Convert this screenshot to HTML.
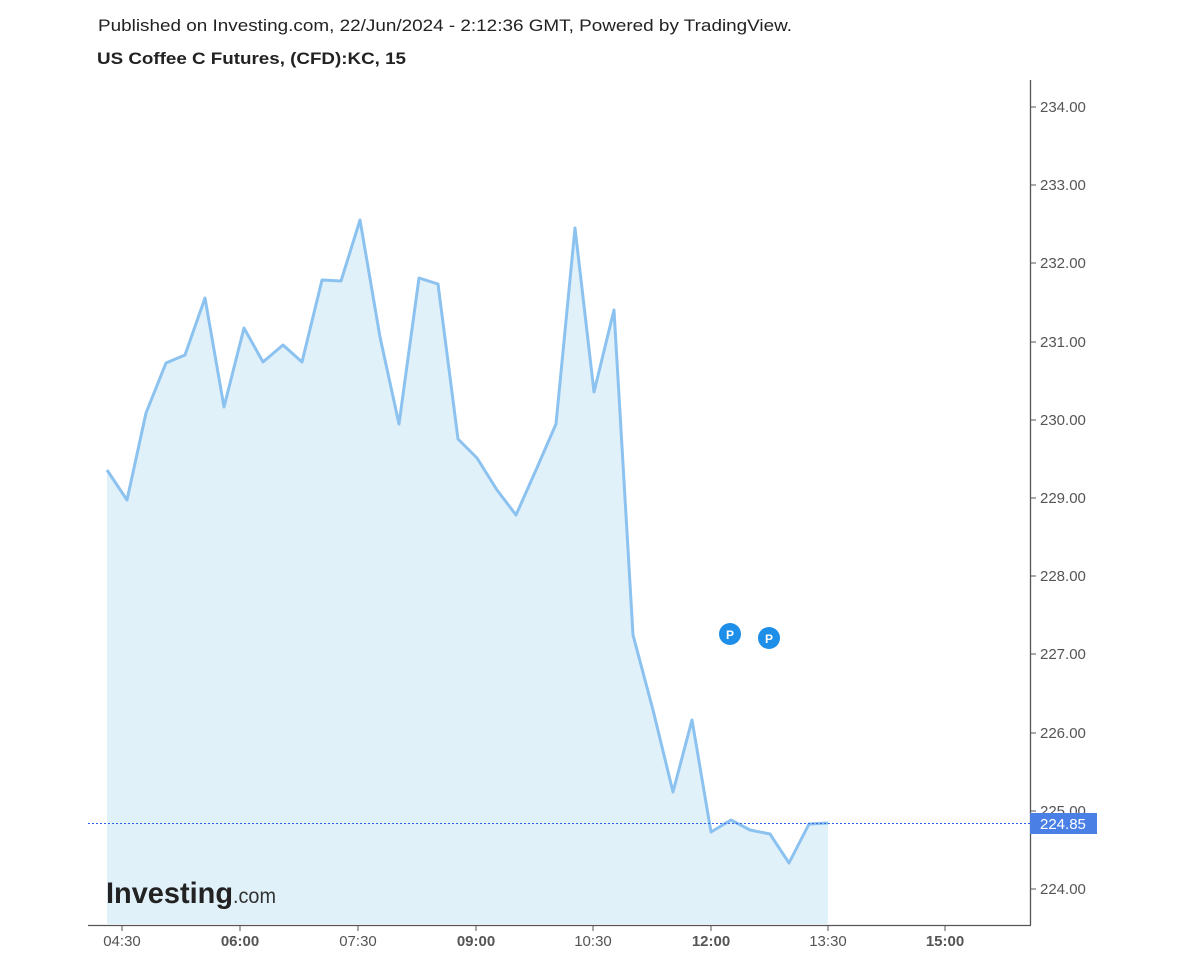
<!DOCTYPE html>
<html><head><meta charset="utf-8"><style>
html,body{margin:0;padding:0;background:#fff;}
body{width:1200px;height:960px;overflow:hidden;font-family:"Liberation Sans",Arial,sans-serif;}
</style></head><body>
<svg width="1200" height="960" xmlns="http://www.w3.org/2000/svg" font-family="Liberation Sans, Arial, sans-serif">
<text x="98" y="31" font-size="17" fill="#222" textLength="694" lengthAdjust="spacingAndGlyphs">Published on Investing.com, 22/Jun/2024 - 2:12:36 GMT, Powered by TradingView.</text>
<text x="97" y="64" font-size="17" font-weight="bold" fill="#222" textLength="309" lengthAdjust="spacingAndGlyphs">US Coffee C Futures, (CFD):KC, 15</text>
<polygon fill="#e1f1fa" points="107,924 107,470 127,500 146,413 166,363 185,355 205,298 224,407 244,328 263,362 283,345 302,362 322,280 341,281 360,220 380,337 399,424 419,278 438,284 458,439 477,458 497,490 516,515 536,470 556,424 575,228 594,392 614,310 633,635 653,710 673,792 692,720 711,832 731,820 750,830 770,834 789,863 809,824 828,823 828,924"/>
<polyline fill="none" stroke="#8cc2ef" stroke-width="3" stroke-linejoin="round" points="107,470 127,500 146,413 166,363 185,355 205,298 224,407 244,328 263,362 283,345 302,362 322,280 341,281 360,220 380,337 399,424 419,278 438,284 458,439 477,458 497,490 516,515 536,470 556,424 575,228 594,392 614,310 633,635 653,710 673,792 692,720 711,832 731,820 750,830 770,834 789,863 809,824 828,823"/>
<line x1="88" y1="823.5" x2="1030" y2="823.5" stroke="#2f62e8" stroke-width="1" stroke-dasharray="2,2"/>
<line x1="1030.5" y1="80" x2="1030.5" y2="925" stroke="#555" stroke-width="1.3"/>
<line x1="88" y1="925.5" x2="1031" y2="925.5" stroke="#555" stroke-width="1.3"/>
<g font-size="15" fill="#555">
<g stroke="#555"><line x1="1031" y1="107" x2="1036" y2="107"/><line x1="1031" y1="185" x2="1036" y2="185"/><line x1="1031" y1="263" x2="1036" y2="263"/><line x1="1031" y1="342" x2="1036" y2="342"/><line x1="1031" y1="420" x2="1036" y2="420"/><line x1="1031" y1="498" x2="1036" y2="498"/><line x1="1031" y1="576" x2="1036" y2="576"/><line x1="1031" y1="654" x2="1036" y2="654"/><line x1="1031" y1="733" x2="1036" y2="733"/><line x1="1031" y1="811" x2="1036" y2="811"/><line x1="1031" y1="889" x2="1036" y2="889"/></g>
<text x="1040" y="112">234.00</text><text x="1040" y="190">233.00</text><text x="1040" y="268">232.00</text><text x="1040" y="347">231.00</text><text x="1040" y="425">230.00</text><text x="1040" y="503">229.00</text><text x="1040" y="581">228.00</text><text x="1040" y="659">227.00</text><text x="1040" y="738">226.00</text><text x="1040" y="816">225.00</text><text x="1040" y="894">224.00</text>
<g stroke="#555"><line x1="122" y1="926" x2="122" y2="931"/><line x1="240" y1="926" x2="240" y2="931"/><line x1="358" y1="926" x2="358" y2="931"/><line x1="476" y1="926" x2="476" y2="931"/><line x1="593" y1="926" x2="593" y2="931"/><line x1="711" y1="926" x2="711" y2="931"/><line x1="828" y1="926" x2="828" y2="931"/><line x1="945" y1="926" x2="945" y2="931"/></g>
<g text-anchor="middle"><text x="122" y="946">04:30</text><text x="240" y="946" font-weight="bold">06:00</text><text x="358" y="946">07:30</text><text x="476" y="946" font-weight="bold">09:00</text><text x="593" y="946">10:30</text><text x="711" y="946" font-weight="bold">12:00</text><text x="828" y="946">13:30</text><text x="945" y="946" font-weight="bold">15:00</text></g>
</g>
<rect x="1030" y="813" width="67" height="21" fill="#4a7fe6"/>
<text x="1040" y="829" font-size="15" fill="#fff">224.85</text>
<circle cx="730" cy="634" r="11" fill="#1d8fe8"/><text x="730" y="639" font-size="12" font-weight="bold" fill="#fff" text-anchor="middle">P</text>
<circle cx="769" cy="638" r="11" fill="#1d8fe8"/><text x="769" y="643" font-size="12" font-weight="bold" fill="#fff" text-anchor="middle">P</text>
<text x="106" y="903" font-size="30" font-weight="bold" fill="#222" textLength="127" lengthAdjust="spacingAndGlyphs">Investing</text>
<text x="233" y="903" font-size="21" fill="#333" textLength="43" lengthAdjust="spacingAndGlyphs">.com</text>
</svg>
</body></html>
